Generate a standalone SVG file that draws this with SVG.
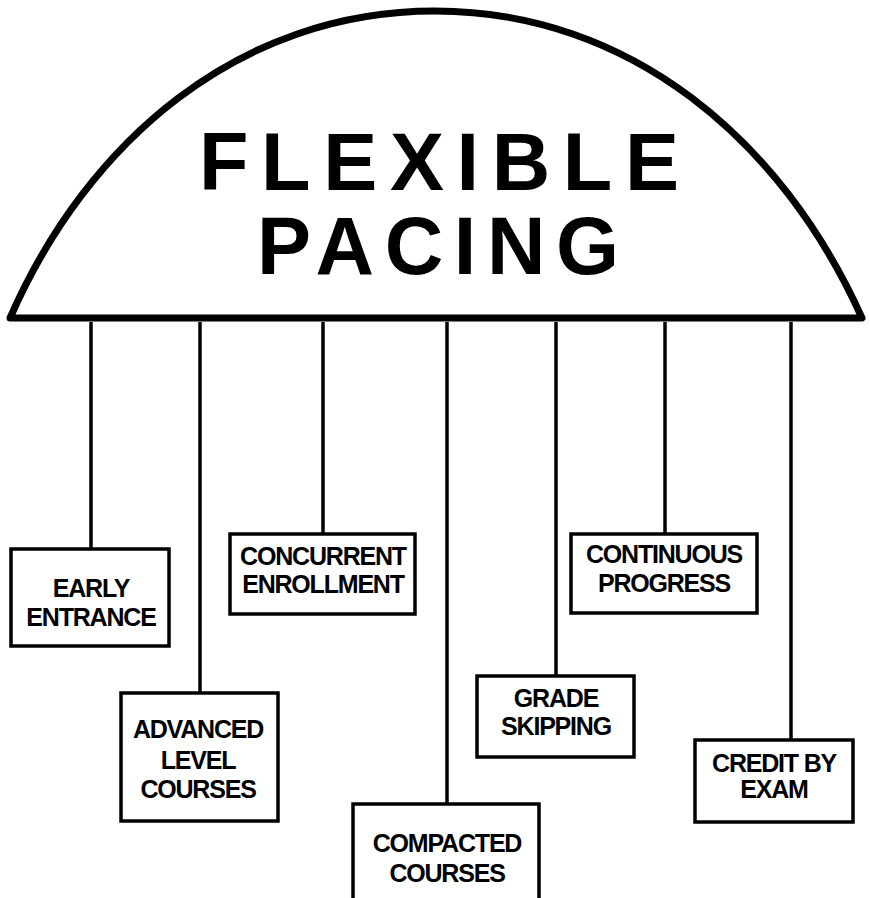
<svg xmlns="http://www.w3.org/2000/svg" width="870" height="898" viewBox="0 0 870 898">
<style>
.box{fill:#fff;stroke:#000;stroke-width:3.5}
.ln{stroke:#000;stroke-width:3.5;fill:none}
.t{font-family:"Liberation Sans",Arial,sans-serif;font-weight:bold;font-size:25px;text-anchor:middle;fill:#000;letter-spacing:-1.2px}
.big{font-family:"Liberation Sans",Arial,sans-serif;font-weight:bold;font-size:81px;fill:#000}
</style>
<rect width="870" height="898" fill="#fff"/>
<g id="dome">
<path d="M10,318 C 88,140 240,11 435,11 C 630,11 782,140 862,318 Z" fill="#fff" stroke="#000" stroke-width="7" stroke-linejoin="round"/>
<text class="big" x="199" y="190" textLength="480" lengthAdjust="spacing">FLEXIBLE</text>
<text class="big" x="257" y="274" textLength="362" lengthAdjust="spacing">PACING</text>
</g>
<g id="connectors">
<line class="ln" x1="91" y1="322" x2="91" y2="549"/>
<line class="ln" x1="200" y1="322" x2="200" y2="693"/>
<line class="ln" x1="323" y1="322" x2="323" y2="534"/>
<line class="ln" x1="447" y1="322" x2="447" y2="804"/>
<line class="ln" x1="556" y1="322" x2="556" y2="676"/>
<line class="ln" x1="665" y1="322" x2="665" y2="534"/>
<line class="ln" x1="791" y1="322" x2="791" y2="740"/>
</g>
<g id="early-entrance">
<rect class="box" x="11" y="549" width="158" height="97"/>
<text class="t" x="91" y="597">EARLY</text>
<text class="t" x="91" y="626">ENTRANCE</text>
</g>
<g id="advanced-level-courses">
<rect class="box" x="121" y="693" width="157" height="128"/>
<text class="t" x="198" y="738">ADVANCED</text>
<text class="t" x="198" y="769">LEVEL</text>
<text class="t" x="198" y="798">COURSES</text>
</g>
<g id="concurrent-enrollment">
<rect class="box" x="230" y="534" width="185" height="80"/>
<text class="t" x="323" y="565">CONCURRENT</text>
<text class="t" x="323" y="593">ENROLLMENT</text>
</g>
<g id="compacted-courses">
<rect class="box" x="353" y="804" width="186" height="110"/>
<text class="t" x="447" y="852">COMPACTED</text>
<text class="t" x="447" y="882">COURSES</text>
</g>
<g id="grade-skipping">
<rect class="box" x="477" y="676" width="157" height="81"/>
<text class="t" x="556" y="707">GRADE</text>
<text class="t" x="556" y="735">SKIPPING</text>
</g>
<g id="continuous-progress">
<rect class="box" x="571" y="534" width="186" height="79"/>
<text class="t" x="664" y="563">CONTINUOUS</text>
<text class="t" x="664" y="592">PROGRESS</text>
</g>
<g id="credit-by-exam">
<rect class="box" x="695" y="740" width="158" height="82"/>
<text class="t" x="774" y="772">CREDIT BY</text>
<text class="t" x="774" y="798">EXAM</text>
</g>
</svg>
